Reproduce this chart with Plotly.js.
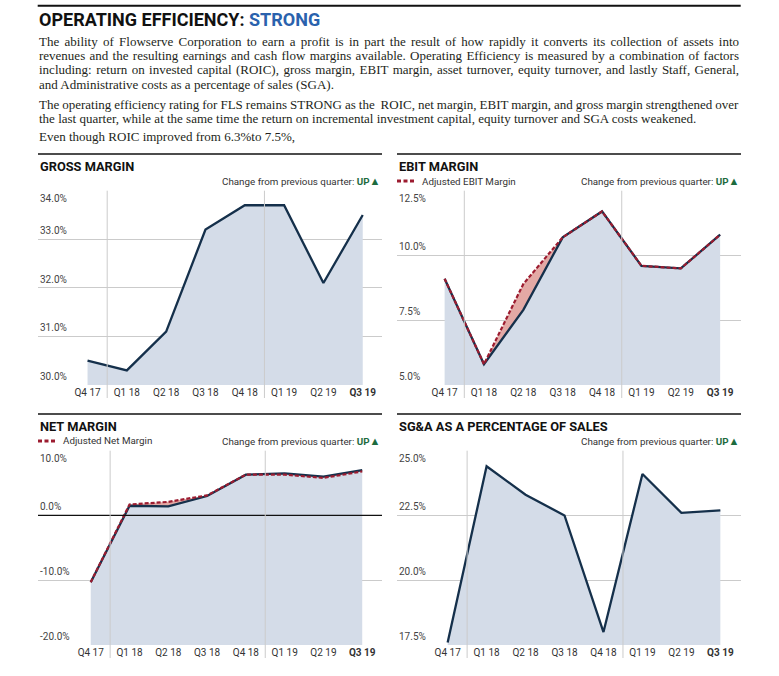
<!DOCTYPE html>
<html><head><meta charset="utf-8">
<script src="https://cdn.plot.ly/plotly-3.0.1.min.js"></script>
<style>html,body{margin:0;padding:0;background:#fff}#chart{width:779px;height:676px}</style>
</head><body><div id="chart"></div>
<script>
// ---------- data ----------
const quarters = ['Q4 17','Q1 18','Q2 18','Q3 18','Q4 18','Q1 19','Q2 19','Q3 19'];
const grossMargin   = [30.5, 30.3, 31.1, 33.2, 33.7, 33.7, 32.1, 33.5];
const ebitMargin    = [9.1, 5.8, 7.9, 10.7, 11.7, 9.6, 9.5, 10.8];
const adjEbitMargin = [9.1, 5.8, 8.9, 10.7, 11.7, 9.6, 9.5, 10.8];
const netMargin     = [-10.3, 1.5, 1.4, 3.0, 6.3, 6.5, 6.0, 7.0];
const adjNetMargin  = [-10.3, 1.7, 2.1, 3.1, 6.3, 6.3, 5.8, 6.8];
const sgaPct        = [17.6, 24.4, 23.3, 22.5, 18.0, 24.1, 22.6, 22.7];
const gmTicks   = [30, 31, 32, 33, 34];
const ebitTicks = [5, 7.5, 10, 12.5];
const netTicks  = [-20, -10, 0, 10];
const sgaTicks  = [17.5, 20, 22.5, 25];
const titleMain = 'OPERATING EFFICIENCY:';
const titleRating = 'STRONG';
const panelTitles = ['GROSS MARGIN', 'EBIT MARGIN', 'NET MARGIN', 'SG&A AS A PERCENTAGE OF SALES'];
const changeText = 'Change from previous quarter: ';
const changeDir = 'UP';
const legendEbit = 'Adjusted EBIT Margin';
const legendNet = 'Adjusted Net Margin';
const introLines = [
  'The ability of Flowserve Corporation to earn a profit is in part the result of how rapidly it converts its collection of assets into',
  'revenues and the resulting earnings and cash flow margins available. Operating Efficiency is measured by a combination of factors',
  'including: return on invested capital (ROIC), gross margin, EBIT margin, asset turnover, equity turnover, and lastly Staff, General,',
  'and Administrative costs as a percentage of sales (SGA).',
  'The operating efficiency rating for FLS remains STRONG as the  ROIC, net margin, EBIT margin, and gross margin strengthened over',
  'the last quarter, while at the same time the return on incremental investment capital, equity turnover and SGA costs weakened.',
  'Even though ROIC improved from 6.3%to 7.5%,'
];
const justifiedLines = [0, 1, 2, 4];

// ---------- styling ----------
const W = 779, H = 676;
const PX = p => p / W, PY = p => 1 - p / H;
const NAVY = '#15304b', FILL = '#d4dce8', RED = '#9c1c30', PINK = '#e3a9a5', GRID = '#cbcbcb';
const SANS = 'Roboto, "Liberation Sans", sans-serif';
const SERIF = '"Liberation Serif", "Times New Roman", serif';

const panels = [
  {ax:'', x:[38,382],  y:[190.7,385], yr:[30,34],    xr:[-1.26,7.49], ticks:gmTicks,   top:154, series:[grossMargin]},
  {ax:'2',x:[397,741], y:[190.7,385], yr:[5,12.5],   xr:[-1.21,7.53], ticks:ebitTicks, top:154, series:[ebitMargin, adjEbitMargin], legend:legendEbit},
  {ax:'3',x:[38,382],  y:[450.7,645], yr:[-20,10],   xr:[-1.36,7.51], ticks:netTicks,  top:414, series:[netMargin, adjNetMargin], legend:legendNet, zero:true},
  {ax:'4',x:[397,741], y:[450.7,645], yr:[17.5,25],  xr:[-1.30,7.53], ticks:sgaTicks,  top:414, series:[sgaPct]}
];

const traces = [];
const layout = {
  width: W, height: H, margin:{l:0,r:0,t:0,b:0},
  paper_bgcolor:'#fff', plot_bgcolor:'rgba(0,0,0,0)',
  showlegend:false, annotations:[], shapes:[],
  font:{family:SANS, color:'#222'}
};

// year boundaries derived from quarter labels
const yearBreaks = [];
for (let i = 1; i < quarters.length; i++) {
  if (quarters[i].slice(-2) !== quarters[i-1].slice(-2)) yearBreaks.push(i - 0.5);
}

panels.forEach((p, k) => {
  const xa = 'x' + p.ax, ya = 'y' + p.ax;
  const base = quarters.map(() => p.yr[0]);
  const main = p.series[0];
  traces.push({x:quarters, y:base, xaxis:xa, yaxis:ya, mode:'lines', line:{width:0}, hoverinfo:'skip'});
  traces.push({x:quarters, y:main, xaxis:xa, yaxis:ya, mode:'lines', line:{width:0}, fill:'tonexty', fillcolor:FILL, hoverinfo:'skip'});
  if (p.series[1]) {
    traces.push({x:quarters, y:p.series[1], xaxis:xa, yaxis:ya, mode:'lines', line:{width:0}, fill:'tonexty', fillcolor:PINK, hoverinfo:'skip'});
  }
  traces.push({x:quarters, y:main, xaxis:xa, yaxis:ya, mode:'lines', line:{color:NAVY, width:2.3}});
  if (p.series[1]) {
    traces.push({x:quarters, y:p.series[1], xaxis:xa, yaxis:ya, mode:'lines', line:{color:RED, width:2.2, dash:'4px,2px'}});
  }
  const dom = {x:[PX(p.x[0]), PX(p.x[1])], y:[PY(p.y[1]), PY(p.y[0])]};
  layout['xaxis' + p.ax] = {
    domain:dom.x, anchor:ya, type:'category', range:p.xr, fixedrange:true,
    showgrid:false, zeroline:false, showline:false, ticks:'',
    tickvals:quarters, ticktext:quarters.map((q,i)=> i===quarters.length-1 ? '<b>'+q+'</b>' : q),
    tickfont:{family:SANS, size:10, color:'#333'}
  };
  layout['yaxis' + p.ax] = {
    domain:dom.y, anchor:xa, range:p.yr, fixedrange:true,
    showgrid:true, gridcolor:GRID, gridwidth:1, tickvals:p.ticks, showticklabels:false,
    zeroline:false, showline:false, ticks:''
  };
  // zero reference line drawn above the area
  if (p.zero) {
    layout.shapes.push({type:'line', xref:xa + ' domain', yref:ya, x0:0, x1:1, y0:0, y1:0,
      line:{color:'#111', width:1.2}, layer:'above'});
  }
  // y tick labels (inside, above gridline; top one below)
  p.ticks.forEach(v => {
    const isTop = v === p.yr[1];
    layout.annotations.push({
      xref:xa + ' domain', yref:ya, x:0, y:v, xanchor:'left', yanchor:isTop?'top':'bottom',
      yshift:isTop?0:1, showarrow:false, text:v.toFixed(1)+'%',
      font:{family:SANS, size:10, color:'#444'}
    });
  });
  // separators
  yearBreaks.forEach(b => {
    layout.shapes.push({type:'line', xref:xa, yref:ya + ' domain', x0:b, x1:b, y0:-13/(p.y[1]-p.y[0]), y1:1,
      line:{color:GRID, width:1}, layer:'above'});
  });
  // panel rule
  layout.shapes.push({type:'line', xref:'paper', yref:'paper', x0:PX(p.x[0]), x1:PX(p.x[1]), y0:PY(p.top), y1:PY(p.top),
    line:{color:'#111', width:1.4}});
  // panel title
  layout.annotations.push({xref:'paper', yref:'paper', x:PX(p.x[0]), y:PY(p.top+12), xanchor:'left', yanchor:'middle',
    showarrow:false, text:'<b>'+panelTitles[k]+'</b>', font:{family:SANS, size:12.8, color:'#111'}});
  // change text
  layout.annotations.push({xref:'paper', yref:'paper', x:PX(p.x[1]), y:PY(p.top+27.5), xanchor:'right', yanchor:'middle',
    showarrow:false, text:changeText + '<b><span style="color:#1d6b3e">'+changeDir+'<span style="font-size:11px">▲</span></span></b>',
    font:{family:SANS, size:9.8, color:'#333'}});
  // legend
  if (p.legend) {
    layout.shapes.push({type:'line', xref:'paper', yref:'paper', x0:PX(p.x[0]), x1:PX(p.x[0]+19.5), y0:PY(p.top+27), y1:PY(p.top+27),
      line:{color:RED, width:3, dash:'4px,2.5px'}});
    layout.annotations.push({xref:'paper', yref:'paper', x:PX(p.x[0]+23), y:PY(p.top+27), xanchor:'left', yanchor:'middle',
      showarrow:false, text:p.legend, font:{family:SANS, size:9.8, color:'#333'}});
  }
});

// top rule and main title
layout.shapes.push({type:'line', xref:'paper', yref:'paper', x0:PX(37.7), x1:PX(740.7), y0:PY(5.7), y1:PY(5.7), line:{color:'#111', width:2}});
layout.annotations.push({xref:'paper', yref:'paper', x:PX(37), y:PY(19.7), xanchor:'left', yanchor:'middle', showarrow:false,
  text:'<b>'+titleMain+' <span style="color:#2a62ad">'+titleRating+'</span></b>', font:{family:SANS, size:18, color:'#111'}});
const lineY = [41.7, 55.9, 70.0, 84.2, 104.3, 118.4, 136.7];
introLines.forEach((t, i) => {
  layout.annotations.push({xref:'paper', yref:'paper', x:PX(37), y:PY(lineY[i]), xanchor:'left', yanchor:'middle', align:'left',
    showarrow:false, text:t, font:{family:SERIF, size:13, color:'#231f20'}});
});

Plotly.newPlot('chart', traces, layout, {displayModeBar:false, staticPlot:true}).then(gd => {
  // justify the paragraph lines that are full width in the original
  const rightEdge = 739;
  gd.querySelectorAll('.annotation-text').forEach(el => {
    const idx = introLines.indexOf(el.textContent);
    if (idx < 0 || justifiedLines.indexOf(idx) < 0) return;
    const box = el.getBBox();
    const ctm = el.getCTM();
    const left = ctm ? ctm.e + box.x : box.x;
    const spaces = (introLines[idx].match(/ /g) || []).length;
    const extra = rightEdge - (left + box.width);
    el.setAttribute('word-spacing', (extra / spaces).toFixed(3));
  });
});
</script></body></html>
